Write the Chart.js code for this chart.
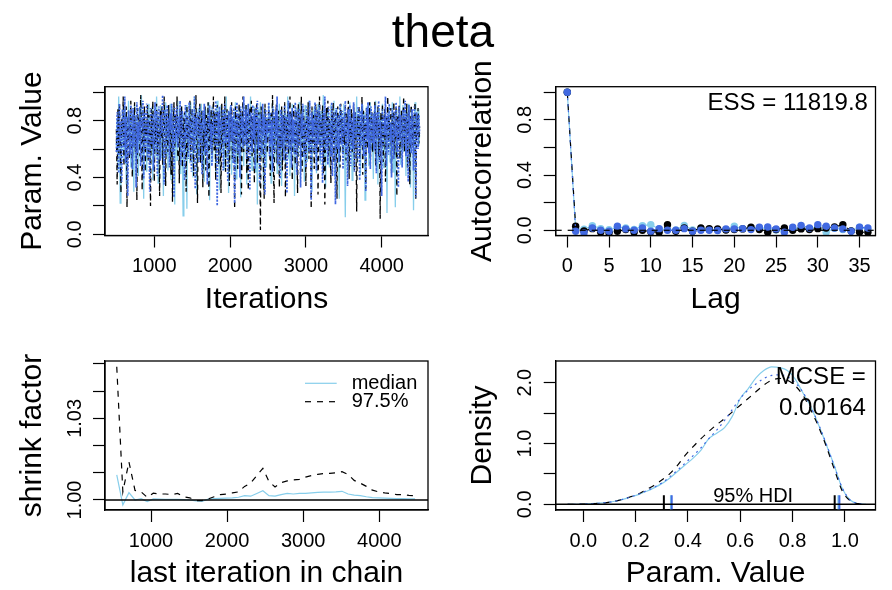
<!DOCTYPE html>
<html>
<head>
<meta charset="utf-8">
<script src="https://cdn.jsdelivr.net/npm/chart.js@4.4.1/dist/chart.umd.min.js"></script>
<style>
  html, body { margin: 0; padding: 0; background: #fff; }
  #wrap { position: relative; width: 892px; height: 590px; overflow: hidden; background: #fff; }
  #wrap canvas { position: absolute; left: 0; top: 0; }
  #title { position: absolute; left: 0; top: 8px; width: 886px; text-align: center;
           font: 46px "Liberation Sans", Arial, Helvetica, sans-serif; line-height: 46px; color: #000; }
</style>
</head>
<body>
<div id="wrap">
  <canvas id="cTrace" width="892" height="590"></canvas>
  <canvas id="cAcf" width="892" height="590"></canvas>
  <canvas id="cShrink" width="892" height="590"></canvas>
  <canvas id="cDens" width="892" height="590"></canvas>
  <div id="title">theta</div>
</div>
<script>
// ---------------- data ----------------
// MCMC trace in percent, one value every 10 iterations from 500 to 4500
const traceStart = 500, traceStep = 10;
const traceChain1Pct = [
  62,81,45,97,70,22,77,58,88,66,51,90,74,35,83,69,94,57,79,47,
  86,63,72,30,91,68,55,84,76,41,89,60,78,98,52,71,25,87,65,80,
  44,74,92,58,83,49,69,90,38,77,61,85,54,97,73,36,82,67,91,54,
  79,63,27,88,71,93,56,80,45,86,70,92,38,75,59,89,66,21,84,73,
  52,94,68,81,43,77,90,62,13,85,72,57,91,18,79,64,87,50,93,69,
  81,40,76,97,60,84,28,71,89,55,78,66,92,47,83,70,37,88,62,80,
  57,93,74,24,86,68,90,51,79,65,87,42,72,94,60,82,31,77,91,56,
  73,88,46,80,67,97,53,84,29,75,90,63,42,78,58,86,71,93,39,82,
  69,54,89,76,26,85,64,92,48,80,74,91,35,83,60,87,70,97,52,45,
  79,66,90,44,84,72,21,88,59,81,93,55,76,86,32,70,89,63,47,82,
  68,91,57,85,36,77,94,61,83,50,72,88,43,79,65,92,56,81,34,87,
  74,60,90,48,84,69,97,53,78,41,86,71,92,58,80,27,75,89,64,83,
  55,93,70,82,46,88,62,79,37,91,73,85,51,76,94,59,81,67,30,87,
  72,90,56,84,43,78,92,65,83,49,87,61,75,98,54,80,33,71,89,63,
  85,47,79,91,58,82,69,94,40,76,88,52,83,66,25,90,73,86,57,78,
  92,64,12,81,70,87,45,78,93,60,84,38,75,89,56,80,68,97,50,83,
  71,88,42,79,63,91,55,86,24,74,90,67,82,48,77,93,59,85,66,39,
  87,72,94,53,80,35,76,89,61,84,70,92,47,78,58,86,73,15,83,65,
  90,51,79,68,93,44,85,62,19,77,88,56,82,71,97,49,80,66,91,58,
  75,87,41,83,69,92,54,78,33,89,64,84,17,76,93,60,81,72,88,62,
  70
];
const traceChain2Pct = [
  74,35,88,57,92,66,29,81,70,97,48,83,61,90,19,76,87,53,72,94,
  64,40,85,71,93,58,79,24,89,67,82,55,98,73,31,86,62,90,44,78,
  69,91,52,84,75,20,88,60,94,71,37,80,65,92,56,83,74,27,87,68,
  90,49,77,97,63,34,85,72,58,91,66,81,42,88,23,75,93,60,84,70,
  97,54,79,36,87,68,90,47,82,62,86,73,30,91,57,80,67,94,51,77,
  89,63,41,85,72,98,55,22,83,69,92,50,78,87,33,74,61,90,45,84,
  70,93,26,81,64,88,56,76,97,59,85,38,79,91,67,49,87,73,29,92,
  62,83,71,97,44,78,88,57,80,34,86,68,93,53,81,75,18,90,64,84,
  46,77,92,60,87,28,73,97,58,80,69,91,43,85,31,76,89,62,94,55,
  82,71,36,88,66,93,50,79,86,63,3,90,74,84,47,25,92,68,81,57,
  76,89,63,41,85,72,98,55,22,83,69,92,50,78,87,33,74,61,90,45,
  84,70,93,26,81,64,88,56,76,97,59,85,38,79,91,67,49,87,73,29,
  92,62,83,71,97,44,78,88,57,80,34,86,68,93,53,81,75,18,90,64,
  84,46,77,92,60,87,28,73,97,58,80,69,91,43,85,21,76,89,62,94,
  55,82,71,36,88,66,93,50,79,86,63,25,90,74,84,47,92,68,81,57,
  76,63,90,52,85,74,94,39,82,67,88,58,79,92,45,86,71,16,83,69,
  91,54,80,73,97,42,87,65,78,32,89,60,84,70,93,49,77,86,58,81,
  67,94,48,83,72,90,55,79,11,86,64,92,51,76,88,37,82,69,97,59,
  80,71,89,43,85,62,93,56,78,90,27,84,66,91,53,79,87,61,74,97,
  58,83,68,92,47,80,88,35,76,91,63,85,54,79,93,25,82,70,89,64,
  76
];
const traceChain3Pct = [
  58,86,71,43,92,65,80,37,88,74,61,97,50,83,69,27,87,76,56,91,
  73,46,89,62,84,70,33,93,57,79,66,90,48,82,75,94,39,86,60,77,
  92,54,81,68,30,89,72,63,85,45,78,93,59,87,41,74,90,66,52,84,
  71,98,62,35,88,77,55,91,68,82,47,85,73,92,58,80,26,89,65,76,
  90,61,83,70,94,49,78,87,57,72,38,91,67,84,75,53,93,63,80,44,
  88,72,59,97,32,82,69,86,76,51,90,64,79,42,87,73,92,56,81,68,
  35,85,74,91,60,78,48,89,70,83,62,94,77,20,86,67,90,55,81,73,
  88,45,79,92,64,84,71,37,87,59,76,91,66,83,50,89,22,80,70,93,
  57,85,74,40,90,68,82,61,97,77,63,88,53,79,92,70,31,86,75,58,
  91,67,84,46,89,72,94,60,81,36,85,73,56,92,69,83,28,88,64,79,
  71,93,55,86,63,80,44,90,75,58,87,68,97,49,82,70,39,88,61,84,
  76,52,91,66,83,29,78,94,60,85,72,47,89,64,81,56,93,70,42,87,
  62,89,74,33,85,69,92,54,80,76,47,90,65,83,58,94,71,24,86,68,
  81,57,93,70,45,88,63,79,91,52,84,74,36,87,66,97,59,82,72,49,
  90,64,80,55,93,41,77,86,68,21,89,73,60,84,51,92,75,63,87,46,
  83,70,94,57,79,34,88,65,91,48,82,76,60,93,44,86,69,80,53,90,
  74,38,87,62,92,71,55,84,78,30,89,66,93,57,81,46,90,72,64,85,
  59,91,76,43,86,68,94,51,80,73,27,88,62,83,70,97,48,79,85,56,
  92,65,78,40,89,74,53,87,69,93,58,81,33,90,66,84,71,47,88,62,
  79,94,55,85,70,37,91,64,82,57,88,73,45,90,68,26,86,77,60,84,
  71
];

// Autocorrelation by lag (0..36) per chain
const acfChain1 = [1, 0.010,0.008,0.034,0.012,0.004,0.022,0.017,0.006,0.034,0.041,0.010,0.005,0.002,0.036,0.003,0.010,0.006,0.004,0.005,0.029,0.012,0.018,0.017,0.014,0.002,-0.010,0.009,0.018,0.011,0.024,-0.014,0.015,0.006,-0.004,0.022,0.003];
const acfChain2 = [1, 0.029,-0.005,0.012,-0.014,-0.019,-0.007,0.005,-0.014,0.000,-0.010,-0.014,0.041,-0.007,0.017,-0.007,0.017,0.012,0.010,0.002,0.005,0.010,0.022,0.005,-0.014,0.005,0.017,0.000,0.010,0.005,0.012,0.017,0.024,0.041,-0.005,-0.014,-0.014];
const acfChain3 = [1, -0.007,-0.020,0.017,0.000,-0.007,0.029,0.010,0.000,0.017,-0.007,0.012,0.000,0.000,0.012,-0.007,0.000,0.000,-0.002,0.010,0.010,0.012,0.005,0.022,0.024,0.010,-0.014,0.022,0.036,0.017,0.041,0.029,0.017,0.010,-0.007,0.022,0.017];
const essText = 'ESS = 11819.8';

// Gelman-Rubin shrink factor, last iteration 550..4470 every 80
const shrinkStart = 550, shrinkStep = 80;
const shrinkMedian = [
  1.0092,0.9982,1.0027,1.0000,1.0005,0.9994,1.0004,1.0003,1.0002,1.0002,
  1.0002,1.0001,1.0000,0.9997,0.9995,1.0003,1.0005,1.0006,1.0007,1.0008,
  1.0010,1.0016,1.0014,1.0024,1.0034,1.0016,1.0014,1.0020,1.0024,1.0022,
  1.0024,1.0024,1.0026,1.0028,1.0029,1.0029,1.0030,1.0032,1.0022,1.0018,
  1.0016,1.0012,1.0009,1.0008,1.0007,1.0006,1.0005,1.0005,1.0004,1.0004
];
const shrink975 = [
  1.0490,1.0030,1.0140,1.0035,1.0030,1.0010,1.0025,1.0022,1.0022,1.0020,
  1.0024,1.0012,1.0008,0.9998,0.9998,1.0004,1.0012,1.0020,1.0022,1.0026,
  1.0030,1.0050,1.0062,1.0090,1.0116,1.0068,1.0048,1.0064,1.0070,1.0074,
  1.0076,1.0084,1.0090,1.0094,1.0097,1.0098,1.0100,1.0104,1.0094,1.0072,
  1.0062,1.0050,1.0036,1.0030,1.0026,1.0024,1.0020,1.0020,1.0017,1.0015
];

// Posterior density per chain on a grid from -0.06 to 1.08 (step 0.03)
const densStart = -0.06, densStep = 0.03;
const densChain1 = [0,0.001,0.004,0.010,0.018,0.030,0.050,0.080,0.120,0.160,0.210,0.270,0.340,0.430,0.540,0.650,0.760,0.890,1.080,1.170,1.260,1.450,1.740,1.900,2.080,2.200,2.260,2.250,2.200,2.060,1.830,1.600,1.300,0.970,0.630,0.260,0.070,0.012,0];
const densChain2 = [0,0.001,0.004,0.009,0.016,0.028,0.050,0.080,0.125,0.170,0.240,0.310,0.400,0.500,0.640,0.810,0.950,1.080,1.200,1.310,1.410,1.520,1.630,1.740,1.850,1.960,2.040,2.070,2.040,1.950,1.790,1.550,1.270,0.940,0.570,0.220,0.060,0.010,0];
const densChain3 = [0,0.001,0.004,0.010,0.017,0.029,0.050,0.080,0.120,0.165,0.220,0.280,0.350,0.450,0.560,0.680,0.800,0.930,1.080,1.220,1.380,1.560,1.740,1.880,1.980,2.070,2.120,2.130,2.100,2.000,1.840,1.600,1.310,0.980,0.620,0.270,0.070,0.012,0];
const hdiLow = [0.335, 0.308, 0.338];
const hdiHigh = [0.975, 0.961, 0.979];
const mcseText = ['MCSE =', '0.00164'];

// ---------------- styling ----------------
const W = 892, H = 590;
const FONT = '"Liberation Sans", Arial, Helvetica, sans-serif';
Chart.defaults.font.family = FONT;
Chart.defaults.color = '#000';

const SKY = '#87CEEB', ROYAL = '#4169E1', BLACK = '#000000';
const chainColor = [SKY, BLACK, ROYAL];
const chainDash = [[], [6, 6], [2, 4]];
const traceDash = [[], [5, 4], [2, 1.5]];
const traceWidth = [1.3, 1.3, 1.7];
const LW = 1.2;

const LEFT = { l: 105, r: 428 }, RIGHT = { l: 555.7, r: 875.5 };
const TOP = { t: 86.7, b: 235.5 }, BOTTOM = { t: 361, b: 510 };

const YW = 90, XH = 80;

function axisX(min, max, ticks, fmt, title) {
  return {
    type: 'linear', min, max, bounds: 'data',
    afterFit: s => { s.height = XH; },
    afterBuildTicks: s => { s.ticks = ticks.map(v => ({ value: v })); },
    grid: { drawOnChartArea: false, drawTicks: true, tickLength: 12, tickColor: '#000', tickWidth: 1.2 },
    border: { display: true, color: '#000', width: 1.3 },
    ticks: { padding: 7, color: '#000', font: { size: 20, lineHeight: 1.2 }, autoSkip: false, maxRotation: 0, minRotation: 0, callback: v => fmt(v) },
    title: { display: true, text: title, color: '#000', font: { size: 30, lineHeight: 1 }, padding: { top: 0, bottom: 1 } }
  };
}
function axisY(min, max, ticks, title) {
  return {
    type: 'linear', min, max, bounds: 'data',
    afterFit: s => { s.width = YW; },
    afterBuildTicks: s => { s.ticks = ticks.map(v => ({ value: v })); },
    grid: { drawOnChartArea: false, drawTicks: true, tickLength: 12, tickColor: '#000', tickWidth: 1.2 },
    border: { display: true, color: '#000', width: 1.3 },
    ticks: { padding: 0, callback: () => '' },
    title: { display: true, text: title, color: '#000', font: { size: 30, lineHeight: 1 }, padding: { top: 2.3, bottom: 0 } }
  };
}

// frame box, rotated y labels and panel-specific extras
function panelPlugin(yLabels, extra) {
  return {
    id: 'panelDecor',
    afterDatasetsDraw(chart) { if (extra) extra(chart); },
    afterDraw(chart) {
      const { ctx, chartArea: a, scales } = chart;
      ctx.save();
      ctx.strokeStyle = '#000';
      ctx.lineWidth = 1.3;
      ctx.strokeRect(a.left, a.top, a.right - a.left, a.bottom - a.top);
      ctx.fillStyle = '#000';
      ctx.font = '20px ' + FONT;
      ctx.textAlign = 'center';
      ctx.textBaseline = 'middle';
      yLabels.forEach(([v, txt]) => {
        const y = scales.y.getPixelForValue(v);
        ctx.save();
        ctx.translate(a.left - 30, y);
        ctx.rotate(-Math.PI / 2);
        ctx.fillText(txt, 0, 0);
        ctx.restore();
      });
      ctx.restore();
    }
  };
}

function makePanel(id, box, scales, datasets, yLabels, extra) {
  return new Chart(document.getElementById(id), {
    type: 'line',
    data: { datasets },
    options: {
      responsive: false, animation: false, events: [],
      layout: { padding: { left: box.l - YW, top: box.t, right: W - box.r, bottom: H - box.b - XH } },
      scales,
      plugins: { legend: { display: false }, tooltip: { enabled: false } },
      elements: { point: { radius: 0 } }
    },
    plugins: [panelPlugin(yLabels, extra)]
  });
}

function hline(chart, value, dash, width) {
  const { ctx, chartArea: a, scales } = chart;
  const y = scales.y.getPixelForValue(value);
  ctx.save();
  ctx.strokeStyle = '#000';
  ctx.lineWidth = width;
  ctx.setLineDash(dash);
  ctx.beginPath();
  ctx.moveTo(a.left, y);
  ctx.lineTo(a.right, y);
  ctx.stroke();
  ctx.restore();
}

// ---------------- trace plot ----------------
const traceData = [traceChain1Pct, traceChain2Pct, traceChain3Pct];
makePanel('cTrace', { l: LEFT.l, r: LEFT.r, t: TOP.t, b: TOP.b },
  {
    x: axisX(349.6, 4611, [1000, 2000, 3000, 4000], v => String(v), 'Iterations'),
    y: axisY(-0.0085, 1.0394, [0, 0.2, 0.4, 0.6, 0.8, 1.0], 'Param. Value')
  },
  traceData.map((vals, c) => ({
    data: vals.map((v, i) => ({ x: traceStart + i * traceStep, y: v / 100 })),
    borderColor: chainColor[c], borderDash: traceDash[c], borderWidth: traceWidth[c],
    pointRadius: 0, tension: 0, order: 3 - c
  })),
  [[0, '0.0'], [0.4, '0.4'], [0.8, '0.8']]
);

// ---------------- autocorrelation ----------------
const acfData = [acfChain1, acfChain2, acfChain3];
makePanel('cAcf', { l: RIGHT.l, r: RIGHT.r, t: TOP.t, b: TOP.b },
  {
    x: axisX(-1.389, 36.91, [0, 5, 10, 15, 20, 25, 30, 35], v => String(v), 'Lag'),
    y: axisY(-0.0377, 1.0406, [0, 0.2, 0.4, 0.6, 0.8, 1.0], 'Autocorrelation')
  },
  acfData.map((vals, c) => ({
    data: vals.map((v, i) => ({ x: i, y: v })),
    borderColor: chainColor[c], borderDash: chainDash[c], borderWidth: LW,
    pointRadius: 3.7, pointBorderWidth: 0, pointBackgroundColor: chainColor[c],
    pointStyle: 'circle', tension: 0, order: 3 - c
  })),
  [[0, '0.0'], [0.4, '0.4'], [0.8, '0.8']],
  chart => {
    hline(chart, 0, [6, 6], 1.2);
    const { ctx, scales } = chart;
    ctx.save();
    ctx.fillStyle = '#000';
    ctx.font = '24px ' + FONT;
    ctx.textAlign = 'right';
    ctx.textBaseline = 'top';
    ctx.fillText(essText, scales.x.getPixelForValue(acfChain1.length - 1), scales.y.getPixelForValue(1) - 1);
    ctx.restore();
  }
);

// ---------------- shrink factor ----------------
const shrinkSeries = [
  { label: 'median', vals: shrinkMedian, color: SKY, dash: [] },
  { label: '97.5%', vals: shrink975, color: BLACK, dash: [6, 6] }
];
makePanel('cShrink', { l: LEFT.l, r: LEFT.r, t: BOTTOM.t, b: BOTTOM.b },
  {
    x: axisX(395.5, 4640, [1000, 2000, 3000, 4000], v => String(v), 'last iteration in chain'),
    y: axisY(0.99632, 1.0511, [1.00, 1.01, 1.02, 1.03, 1.04, 1.05], 'shrink factor')
  },
  shrinkSeries.map((s, k) => ({
    data: s.vals.map((v, i) => ({ x: shrinkStart + i * shrinkStep, y: v })),
    borderColor: s.color, borderDash: s.dash, borderWidth: LW,
    pointRadius: 0, tension: 0, order: 2 - k
  })),
  [[1.00, '1.00'], [1.03, '1.03']],
  chart => {
    hline(chart, 1, [], 1.3);
    const { ctx, chartArea: a } = chart;
    ctx.save();
    ctx.font = '20px ' + FONT;
    ctx.textAlign = 'left';
    ctx.textBaseline = 'middle';
    shrinkSeries.forEach((s, k) => {
      const y = a.top + 22.3 + k * 18.4;
      ctx.strokeStyle = s.color;
      ctx.lineWidth = LW;
      ctx.setLineDash(s.dash);
      ctx.beginPath();
      ctx.moveTo(a.right - 123, y);
      ctx.lineTo(a.right - 91.3, y);
      ctx.stroke();
      ctx.fillStyle = '#000';
      ctx.fillText(s.label, a.right - 76.3, y);
    });
    ctx.restore();
  }
);

// ---------------- density ----------------
const densData = [densChain1, densChain2, densChain3];
const densSets = densData.map((vals, c) => ({
  data: vals.map((v, i) => ({ x: densStart + i * densStep, y: v })),
  borderColor: chainColor[c], borderDash: chainDash[c], borderWidth: LW,
  pointRadius: 0, cubicInterpolationMode: 'monotone', order: 10 - c
}));
const hdiSets = chainColor.map((col, c) => ({
  data: [{ x: hdiLow[c], y: 0 }, { x: hdiHigh[c], y: 0 }],
  showLine: false, pointStyle: 'line', rotation: 90, pointRadius: 9,
  pointBorderWidth: 2, pointBorderColor: col, pointBackgroundColor: col,
  borderColor: col, order: 3 - c
}));
const densMax = Math.max(...densChain1, ...densChain2, ...densChain3);
makePanel('cDens', { l: RIGHT.l, r: RIGHT.r, t: BOTTOM.t, b: BOTTOM.b },
  {
    x: axisX(-0.1055, 1.117, [0, 0.2, 0.4, 0.6, 0.8, 1.0], v => v.toFixed(1), 'Param. Value'),
    y: axisY(-0.0938, 2.357, [0, 0.5, 1.0, 1.5, 2.0], 'Density')
  },
  densSets.concat(hdiSets),
  [[0, '0.0'], [1, '1.0'], [2, '2.0']],
  chart => {
    hline(chart, 0, [], 1.6);
    const { ctx, scales } = chart;
    const all = hdiLow.concat(hdiHigh);
    const mid = all.reduce((s, v) => s + v, 0) / all.length;
    ctx.save();
    ctx.fillStyle = '#000';
    ctx.font = '20px ' + FONT;
    ctx.textAlign = 'center';
    ctx.textBaseline = 'alphabetic';
    ctx.fillText('95% HDI', scales.x.getPixelForValue(mid), scales.y.getPixelForValue(0) - 2.6);
    ctx.font = '24px ' + FONT;
    ctx.textAlign = 'right';
    ctx.textBaseline = 'top';
    const xr = scales.x.getPixelForValue(densStart + (densChain1.length - 1) * densStep);
    const yt = scales.y.getPixelForValue(densMax);
    ctx.fillText(mcseText[0], xr, yt - 2);
    ctx.fillText(mcseText[1], xr, yt + 29);
    ctx.restore();
  }
);
</script>
</body>
</html>
